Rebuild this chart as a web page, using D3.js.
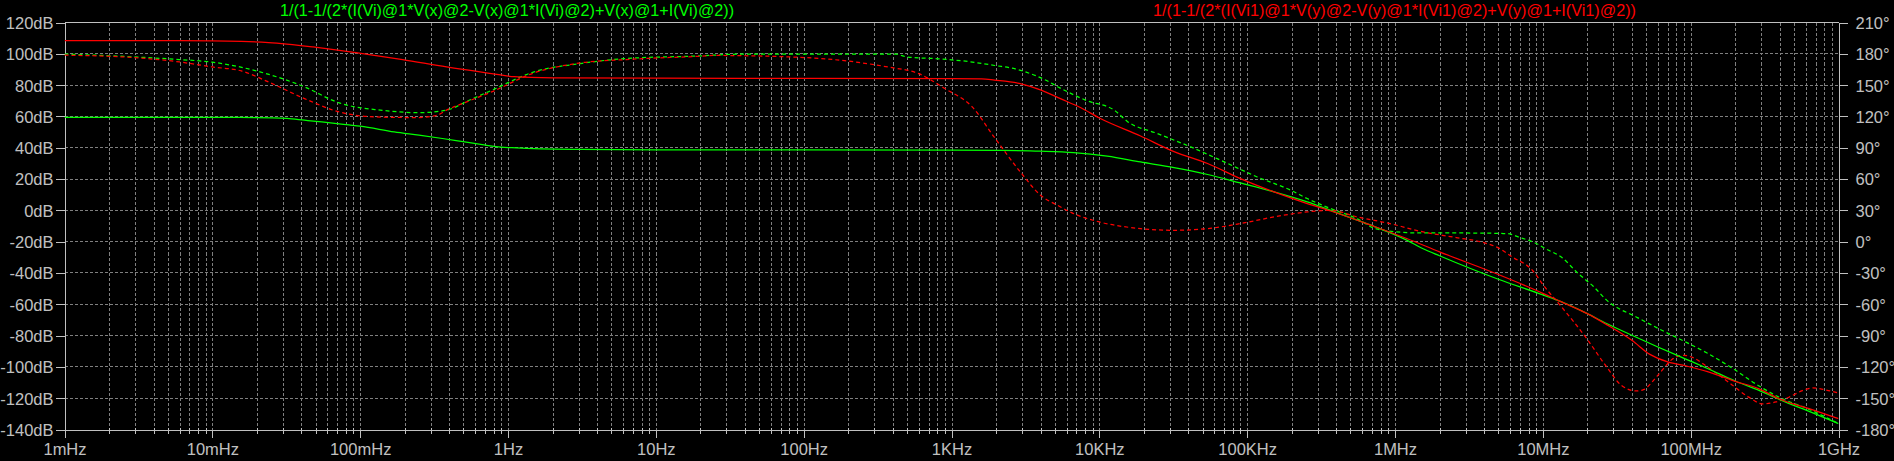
<!DOCTYPE html>
<html><head><meta charset="utf-8">
<script src="https://cdn.jsdelivr.net/npm/d3@7"></script>
<style>
html,body{margin:0;padding:0;background:#000;overflow:hidden}
svg{display:block;background:#000}
text{font-family:"Liberation Sans",Arial,sans-serif}
</style></head><body>
<svg id="chart" width="1894" height="461"></svg>
<script>
// ---- tick labels / categories ----
const freqTickValues = [1e-3,1e-2,1e-1,1,10,100,1e3,1e4,1e5,1e6,1e7,1e8,1e9];
const freqTickLabels = ["1mHz","10mHz","100mHz","1Hz","10Hz","100Hz","1KHz","10KHz","100KHz","1MHz","10MHz","100MHz","1GHz"];
const dbTicks = [120,100,80,60,40,20,0,-20,-40,-60,-80,-100,-120,-140];
const phaseTicks = [210,180,150,120,90,60,30,0,-30,-60,-90,-120,-150,-180];
const titleGreen = "1/(1-1/(2*(I(Vi)@1*V(x)@2-V(x)@1*I(Vi)@2)+V(x)@1+I(Vi)@2))";
const titleRed = "1/(1-1/(2*(I(Vi1)@1*V(y)@2-V(y)@1*I(Vi1)@2)+V(y)@1+I(Vi1)@2))";

// ---- series: green magnitude (dB) ----
const greenMagFreq = [0.001,0.01,0.02,0.032,0.042,0.055,0.084,0.1,0.17,0.25,0.36,0.51,0.67,0.83,1.06,1.67,3.1,10,100,1000,2000,4000,6700,11300,19000,32000,54000,90000,152000,255000,367000,555000,720000,1.2e6,1.55e6,2e6,5e6,1e7,1.34e7,2e7,2.7e7,4e7,6e7,9.1e7,1.3e8,2e8,2.9e8,4e8,6.7e8,1e9];
const greenMagDb = [59.4,59.4,59.3,58.7,57.6,56.5,54.6,53.8,50.1,48.0,45.9,43.7,42.0,40.7,40.0,39.2,38.9,38.7,38.6,38.5,38.3,37.8,36.9,34.6,30.9,27.3,22.9,17.5,11.8,5.4,0,-6.3,-10.2,-19,-24.5,-29,-44,-54,-58.5,-66,-72.3,-79.8,-87.3,-94.7,-101,-109,-115,-120.9,-129.4,-136.2];

// ---- series: red magnitude (dB) ----
const redMagFreq = [0.001,0.006,0.0157,0.024,0.048,0.096,0.194,0.384,0.775,1.1,2,10,100,1000,1600,1950,3000,4000,5400,7500,10000,19000,32000,54000,90000,152000,255000,367000,720000,1.2e6,2e6,5e6,1e7,1.3e7,2e7,2.7e7,4e7,5.3e7,7e7,9.5e7,1.3e8,2e8,2.9e8,4e8,6.7e8,1e9];
const redMagDb = [108.5,108.4,107.9,107.2,104.4,100.6,96.3,91.6,87.4,85.4,84.7,84.4,84.3,84.2,84.0,83.2,80.7,77,71.5,65.5,59,47.5,37.5,29.9,20.3,11.8,4.3,-0.4,-10.2,-18,-26.5,-41,-53,-58,-66,-73,-83,-92,-96.8,-99.6,-103,-109.2,-114,-120.5,-127.5,-133];

// ---- series: green phase (deg) ----
const greenPhFreq = [0.001,0.003,0.006,0.01,0.021,0.042,0.072,0.137,0.254,0.384,0.546,0.775,1.5,3.1,6.3,20,35,420,500,810,1300,1960,2700,3200,4400,5400,8200,12700,15400,24700,41500,70000,117000,197000,255000,367000,555000,720000,1e6,1.5e6,3e6,5.7e6,7e6,9.1e6,1.05e7,1.34e7,1.72e7,2.2e7,2.7e7,4.4e7,6e7,9.5e7,1.3e8,1.95e8,2.88e8,3.95e8,6.4e8,1e9];
const greenPh = [179.8,177,174.5,172,162.7,148.3,133,126,123.6,126,135.5,145,162.7,170.7,175.5,178,179.6,179.6,177,175.2,172.6,168.8,165.6,162.4,154.4,147.4,135.2,125.7,115.4,103.6,90.8,76.4,62,49.3,41.3,31.7,22,13,9.5,8.3,8.3,7.7,4,-2,-7,-15,-30,-43,-56,-73,-83,-97,-107,-122,-138,-149,-161,-174.3];

// ---- series: red phase (deg) ----
const redPhFreq = [0.001,0.003,0.006,0.01,0.0157,0.024,0.042,0.072,0.127,0.24,0.33,0.384,0.546,0.775,1.5,3.1,6.3,20,25,82,200,370,600,900,1380,1940,2980,4000,5200,6700,10000,19000,32000,54000,90000,152000,255000,367000,555000,925000,1.55e6,2.6e6,4e6,5.1e6,6.2e6,8.5e6,1.03e7,1.34e7,1.96e7,2.7e7,3.4e7,4.3e7,4.8e7,6e7,7.6e7,8.9e7,1.04e8,1.3e8,1.8e8,2.47e8,3.07e8,3.78e8,4.62e8,5.7e8,6.7e8,8e8,1e9];
const redPh = [178.7,176.3,172.2,167.4,163.6,153,137.1,124.3,119.5,118.9,121.1,126,134.9,143.5,161.7,171.3,174.5,177.7,178.4,177,173,167.4,161,146.7,129.1,100.4,65.3,44.5,34.9,26.9,18.9,12.5,10.9,12.5,17.3,23.7,28.5,30,23.7,17.3,9.3,3.9,-1,-6.6,-14.6,-27.4,-43.4,-62.6,-92,-120,-137.7,-143.1,-141.8,-128.1,-112.1,-108.9,-111.2,-120.1,-134.5,-149,-155.5,-153.6,-149.1,-142.7,-140.2,-141.8,-145];

// ---- layout ----
const L = 64.5, R = 1838.5, T = 22.5, B = 429.5;
const AXIS = "#c0c0c0", GRID = "#7f7f7f", GREEN = "#00ff00", RED = "#ff0000";
const FS = "16.5px";

const svg = d3.select("#chart");
const x = d3.scaleLog().domain([1e-3, 1e9]).range([L, R]);
const yDb = d3.scaleLinear().domain([-140, 120]).range([B, T]);
const yPh = d3.scaleLinear().domain([-180, 210]).range([B, T]);

// minor values
const minorVals = [];
for (let e = -3; e < 9; e++) for (let m = 2; m <= 9; m++) minorVals.push(m * Math.pow(10, e));
const gridX = minorVals.concat(freqTickValues.slice(1, -1));

// grid
const g = svg.append("g").attr("shape-rendering", "crispEdges");
g.selectAll("line.vx").data(gridX).join("line")
  .attr("x1", d => Math.round(x(d)) + 0.5).attr("x2", d => Math.round(x(d)) + 0.5)
  .attr("y1", T).attr("y2", B)
  .attr("stroke", GRID).attr("stroke-dasharray", "3,2");
g.selectAll("line.hy").data(dbTicks.slice(1, -1)).join("line")
  .attr("x1", L).attr("x2", R)
  .attr("y1", d => Math.round(yDb(d) - 0.5) + 0.5).attr("y2", d => Math.round(yDb(d) - 0.5) + 0.5)
  .attr("stroke", GRID).attr("stroke-dasharray", "3,2");

// frame top
svg.append("line").attr("x1", L).attr("x2", R).attr("y1", T).attr("y2", T)
  .attr("stroke", AXIS).attr("shape-rendering", "crispEdges");

function styleAxis(sel) {
  sel.attr("shape-rendering", "crispEdges");
  sel.select(".domain").attr("stroke", AXIS);
  sel.selectAll(".tick line").attr("stroke", AXIS);
  sel.selectAll(".tick text").attr("fill", AXIS).style("font-size", FS)
    .style("font-family", '"Liberation Sans", Arial, sans-serif');
}

// left axis
const ax1 = svg.append("g").attr("transform", `translate(${L},0)`)
  .call(d3.axisLeft(yDb).tickValues(dbTicks).tickFormat(d => d + "dB").tickSize(9).tickSizeOuter(0).tickPadding(2));
styleAxis(ax1);
ax1.selectAll(".tick text").attr("dy", "0.36em");

// right axis
const ax2 = svg.append("g").attr("transform", `translate(${R},0)`)
  .call(d3.axisRight(yPh).tickValues(phaseTicks).tickFormat(d => d + "°").tickSize(9).tickSizeOuter(0).tickPadding(8));
styleAxis(ax2);
ax2.selectAll(".tick text").attr("dy", "0.36em");

// bottom minor ticks
const ax3m = svg.append("g").attr("transform", `translate(0,${B})`)
  .call(d3.axisBottom(x).tickValues(minorVals).tickFormat("").tickSize(4).tickSizeOuter(0));
styleAxis(ax3m);
ax3m.selectAll(".tick line").attr("y1", -2);

// bottom major
const ax3 = svg.append("g").attr("transform", `translate(0,${B})`)
  .call(d3.axisBottom(x).tickValues(freqTickValues).tickFormat((d, i) => freqTickLabels[i]).tickSize(8).tickSizeOuter(0));
styleAxis(ax3);
ax3.selectAll(".tick text").attr("y", 25.5).attr("dy", 0);

// traces
svg.append("clipPath").attr("id", "pc").append("rect")
  .attr("x", L).attr("y", T - 2).attr("width", R - L).attr("height", B - T + 4);
const traces = svg.append("g").attr("clip-path", "url(#pc)");

function drawTrace(fs, vs, yScale, color, dashed) {
  const pts = fs.map((f, i) => [f, vs[i]]);
  const line = d3.line().x(d => x(d[0])).y(d => yScale(d[1])).curve(d3.curveMonotoneX);
  traces.append("path").attr("d", line(pts)).attr("fill", "none")
    .attr("stroke", color).attr("stroke-width", 1.25)
    .attr("stroke-dasharray", dashed ? "4,3" : null);
}
drawTrace(greenPhFreq, greenPh, yPh, GREEN, true);
drawTrace(redPhFreq, redPh, yPh, RED, true);
drawTrace(greenMagFreq, greenMagDb, yDb, GREEN, false);
drawTrace(redMagFreq, redMagDb, yDb, RED, false);

// titles
svg.append("text").attr("x", 280).attr("y", 16).text(titleGreen)
  .attr("fill", GREEN).style("font-size", "16px")
  .attr("textLength", 454).attr("lengthAdjust", "spacingAndGlyphs");
svg.append("text").attr("x", 1153).attr("y", 16).text(titleRed)
  .attr("fill", RED).style("font-size", "16px")
  .attr("textLength", 483).attr("lengthAdjust", "spacingAndGlyphs");
</script>
</body></html>
